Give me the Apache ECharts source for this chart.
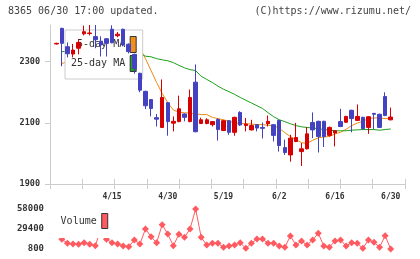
<!DOCTYPE html>
<html>
<head>
<meta charset="utf-8">
<script src="https://cdn.jsdelivr.net/npm/echarts@6/dist/echarts.min.js"></script>
<style>
html,body{margin:0;padding:0;background:#fff}
#chart{width:420px;height:259px}
</style>
</head>
<body>
<div id="chart"></div>
<script>
var dates = ['4/1','4/2','4/3','4/4','4/7','4/8','4/9','4/10','4/11','4/14',
  '4/15','4/16','4/17','4/18','4/21','4/22','4/23','4/24','4/25','4/28',
  '4/30','5/1','5/2','5/7','5/8','5/9','5/12','5/13','5/14','5/15',
  '5/19','5/20','5/21','5/22','5/23','5/26','5/27','5/28','5/29','5/30',
  '6/2','6/3','6/4','6/5','6/6','6/9','6/10','6/11','6/12','6/13',
  '6/16','6/17','6/18','6/19','6/20','6/23','6/24','6/25','6/26','6/27','6/30'];

var openP  = [2358,2409,2349,2325,2344,2391,2392,2382,2367,2375,2406,2385,2406,2357,2324,2262,2203,2176,2117,2085,
  2166,2099,2104,2129,2104,2233,2098,2098,2094,2111,2075,2107,2069,2134,2091,2077,2094,2085,2097,2094,
  2108,2019,1995,2039,2006,2015,2101,2105,2105,2059,2067,2104,2102,2141,2108,2118,2085,2131,2128,2186,2110];
var closeP = [2360,2360,2326,2338,2363,2398,2394,2372,2355,2360,2362,2390,2355,2333,2278,2207,2156,2147,2112,2183,
  2104,2105,2146,2118,2183,2071,2110,2110,2104,2078,2107,2069,2118,2093,2096,2091,2083,2082,2105,2059,
  2026,2003,2050,2052,2015,2064,2077,2055,2055,2085,2074,2088,2121,2114,2121,2081,2120,2128,2085,2124,2119];
var lowP   = [2356,2285,2314,2314,2324,2386,2386,2344,2317,2317,2360,2380,2350,2327,2261,2200,2145,2121,2088,2083,
  2058,2072,2102,2105,2102,2069,2096,2095,2088,2042,2073,2061,2058,2090,2072,2075,2072,2049,2088,2039,
  2006,1995,1973,2037,1959,2013,2050,2003,2021,2055,2023,2086,2100,2069,2106,2078,2064,2080,2083,2122,2108];
var highP  = [2362,2411,2363,2358,2373,2418,2420,2420,2383,2377,2419,2397,2408,2360,2326,2264,2205,2178,2129,2242,
  2168,2121,2189,2131,2209,2291,2117,2115,2106,2115,2110,2109,2120,2138,2116,2110,2096,2101,2124,2096,
  2110,2045,2061,2100,2034,2086,2134,2107,2107,2088,2076,2146,2123,2143,2160,2120,2122,2132,2130,2200,2150];

var ma5 = ['-',2294,2300,2312,2326,2338,2352,2366,2376,2380,2380,2382,2378,2372,2362,2345,2310,2271,2232,2196,
  2166,2142,2135,2133,2132,2130,2127,2127,2118,2114,2110,2105,2100,2098,2097,2096,2094,2094,2092,2091,
  2082,2068,2055,2045,2035,2033,2043,2051,2054,2055,2064,2069,2079,2091,2099,2105,2114,2116,2116,2114,2113];
var ma25 = ['-',2333,2333,2334,2335,2336,2337,2338,2338,2339,2339,2338,2336,2334,2330,2326,2318,2316,2310,2306,
  2303,2297,2288,2280,2274,2271,2252,2242,2232,2220,2210,2202,2193,2183,2174,2165,2156,2147,2133,2120,
  2110,2104,2097,2091,2087,2085,2083,2081,2078,2076,2074,2074,2074,2076,2077,2078,2078,2078,2076,2078,2080];
var volume = ['-',14700,8950,7950,7500,9800,7500,5500,29600,14700,9800,7950,5100,4100,13700,7950,29400,18400,9800,35600,
  22250,5500,21800,17500,29400,58000,17500,6500,8950,8950,3200,5100,6500,9800,1800,8950,15100,15100,8950,8950,
  5100,3200,19400,6500,12250,6500,13700,23250,5100,3200,12250,13700,5100,9800,8950,1800,13700,10400,3200,19800,800];

var priceTicks = [1900, 2100, 2300];
var volumeTicks = [800, 29400, 58000];

var MONO = "'DejaVu Sans Mono', monospace";
var UP = '#d60000', DOWN = '#4343c1';
var AXIS = '#cccccc';

var candles = dates.map(function (d, i) {
  return [openP[i], closeP[i], lowP[i], highP[i]];
});

function plain(v) { return String(v); }

var chart = echarts.init(document.getElementById('chart'));
chart.setOption({
  animation: false,
  backgroundColor: '#fff',
  title: [
    { text: '8365 06/30 17:00 updated.', left: 8, top: 6, padding: 0,
      textStyle: { fontFamily: MONO, fontSize: 10, fontWeight: 'normal', color: '#444' } },
    { text: '(C)https://www.rizumu.net/', right: 9, top: 6, padding: 0,
      textStyle: { fontFamily: MONO, fontSize: 10, fontWeight: 'normal', color: '#444' } }
  ],
  legend: [
    {
      data: [
        { name: '5-day MA', itemStyle: { color: '#f0901c' } },
        { name: '25-day MA', itemStyle: { color: '#22a022' } }
      ],
      orient: 'vertical', left: 65, top: 30, align: 'right',
      itemWidth: 6, itemHeight: 16, itemGap: 2, padding: [6, 6, 7, 6],
      icon: 'rect', selectedMode: false,
      backgroundColor: '#fff', borderColor: '#cccccc', borderWidth: 1,
      itemStyle: { borderColor: '#333', borderWidth: 1 },
      textStyle: { fontFamily: MONO, fontSize: 10, color: '#333' },
      z: 4
    },
    {
      data: [{ name: 'Volume', itemStyle: { color: '#ff5a60' } }],
      orient: 'vertical', left: 55.6, top: 208, align: 'right',
      itemWidth: 6, itemHeight: 15, padding: [5, 5, 9, 5],
      icon: 'rect', selectedMode: false,
      backgroundColor: '#fff', borderWidth: 0,
      itemStyle: { borderColor: '#333', borderWidth: 1 },
      textStyle: { fontFamily: MONO, fontSize: 10, color: '#333' },
      z: 4
    }
  ],
  grid: [
    { left: 53.5, right: 26.5, top: 25, bottom: 75 },   // candles
    { left: 50, right: 15, top: 25, bottom: 75 },       // frame
    { left: 50, right: 15, top: 25, bottom: 75 },       // inner ticks
    { left: 53.5, right: 26.5, top: 209, bottom: 10 }   // volume
  ],
  xAxis: [
    {
      gridIndex: 0, type: 'category', data: dates, boundaryGap: true,
      axisLine: { show: false }, axisTick: { show: false }, splitLine: { show: false },
      axisLabel: {
        interval: function (i) { return i > 0 && i % 10 === 0; },
        fontFamily: MONO, fontSize: 8, fontWeight: 'bold', color: '#333', margin: 9
      }
    },
    {
      gridIndex: 1, type: 'value', min: 0, max: 11, interval: 1,
      axisLine: { show: true, lineStyle: { color: AXIS } },
      axisTick: { show: true, length: 5, lineStyle: { color: AXIS } },
      axisLabel: { show: false }, splitLine: { show: false }
    },
    {
      gridIndex: 2, type: 'value', min: 0, max: 11, interval: 1,
      axisLine: { show: false },
      axisTick: { show: true, inside: true, length: 5, lineStyle: { color: AXIS } },
      axisLabel: { show: false }, splitLine: { show: false }
    },
    {
      gridIndex: 3, type: 'category', data: dates, boundaryGap: true, show: false
    }
  ],
  yAxis: [
    { gridIndex: 0, type: 'value', min: 1900, max: 2420, show: false },
    {
      gridIndex: 1, type: 'value', min: 1900, max: 2420,
      axisLine: { show: true, lineStyle: { color: AXIS } },
      axisTick: { show: true, length: 5, customValues: priceTicks, lineStyle: { color: AXIS } },
      axisLabel: { customValues: priceTicks, formatter: plain, fontFamily: MONO, fontSize: 8.5, fontWeight: 'bold', color: '#333', margin: 10 },
      splitLine: { show: false }
    },
    { gridIndex: 2, type: 'value', min: 0, max: 1, show: false },
    {
      gridIndex: 3, type: 'value', min: 800, max: 58000,
      axisLine: { show: false }, axisTick: { show: false }, splitLine: { show: false },
      axisLabel: { customValues: volumeTicks, formatter: plain, fontFamily: MONO, fontSize: 9, fontWeight: 'bold', color: '#333', margin: 9.5 }
    }
  ],
  series: [
    {
      name: 'price', type: 'candlestick', xAxisIndex: 0, yAxisIndex: 0,
      data: candles, barWidth: 4, z: 5, silent: true,
      itemStyle: { color: UP, color0: DOWN, borderColor: UP, borderColor0: DOWN, borderWidth: 1 }
    },
    {
      name: '5-day MA', type: 'line', xAxisIndex: 0, yAxisIndex: 0, data: ma5,
      showSymbol: false, silent: true, z: 2,
      itemStyle: { color: '#f0901c' }, lineStyle: { color: '#ee8a10', width: 1 }
    },
    {
      name: '25-day MA', type: 'line', xAxisIndex: 0, yAxisIndex: 0, data: ma25,
      showSymbol: false, silent: true, z: 2,
      itemStyle: { color: '#22a022' }, lineStyle: { color: '#1ca01c', width: 1 }
    },
    {
      name: 'Volume', type: 'line', xAxisIndex: 3, yAxisIndex: 3, data: volume,
      symbol: 'diamond', symbolSize: 7, showAllSymbol: true, silent: true, z: 2,
      itemStyle: { color: '#ff5a60' }, lineStyle: { color: '#ff5a60', width: 1 }
    }
  ]
});
</script>
</body>
</html>
